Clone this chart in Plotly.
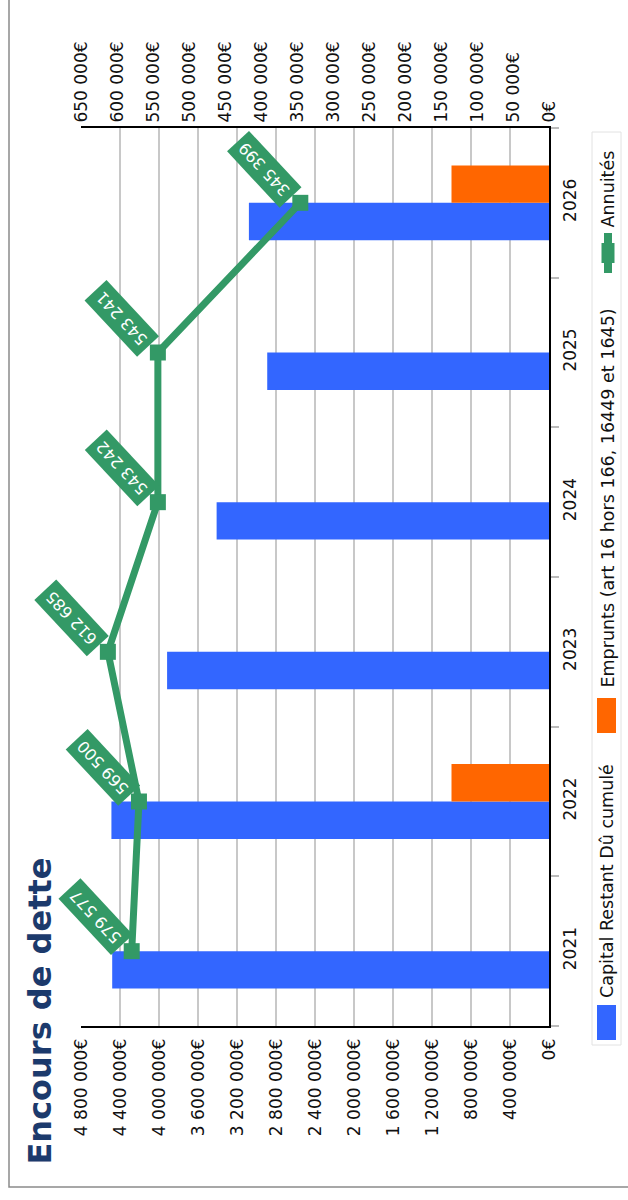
import plotly.graph_objects as go

# Chart data
years = ["2021", "2022", "2023", "2024", "2025", "2026"]
capital_restant = [4480000, 4488000, 3917000, 3409000, 2890000, 3078000]
emprunts = [0, 1000000, 0, 0, 0, 1000000]
annuites = [579577, 569500, 612685, 543242, 543241, 345399]

series_names = [
    "Capital Restant Dû cumulé",
    "Emprunts (art 16 hors 166, 16449 et 1645)",
    "Annuités",
]
title_text = "Encours de dette"

# Page geometry (pixels) and plot-area edges
W, H = 628, 1200
L, R, T, B = 81, 549, 128, 1026

BLUE = "#3366ff"
ORANGE = "#ff6600"
GREEN = "#339966"
NAVY = "#1c3a6c"
FONT = "DejaVu Sans"


def px(x):
    return (x - L) / (R - L)


def py(y):
    return (B - y) / (B - T)


def fmt(v):
    return f"{v:,}".replace(",", " ")


fig = go.Figure()
fig.add_trace(go.Bar(
    x=capital_restant, y=years, orientation="h", name=series_names[0],
    marker=dict(color=BLUE, line=dict(width=0)), xaxis="x", yaxis="y",
    showlegend=False,
))
fig.add_trace(go.Bar(
    x=emprunts, y=years, orientation="h", name=series_names[1],
    marker=dict(color=ORANGE, line=dict(width=0)), xaxis="x", yaxis="y",
    showlegend=False,
))
fig.add_trace(go.Scatter(
    x=annuites, y=years, name=series_names[2], mode="lines+markers",
    line=dict(color=GREEN, width=7),
    marker=dict(symbol="square", size=16, color=GREEN),
    xaxis="x2", yaxis="y", showlegend=False,
))

tick_font = dict(family=FONT, size=17, color="#111111")

annotations = []
# value labels on the Annuités line (category axis positions by index)
for i, v in enumerate(annuites):
    annotations.append(dict(
        x=v, y=i, xref="x2", yref="y", text=fmt(v), showarrow=False,
        textangle=-133, xshift=-36, yshift=34,
        bgcolor=GREEN, borderpad=5,
        font=dict(family=FONT, size=16, color="white"),
    ))

# title
annotations.append(dict(
    x=px(39), y=py(1167), xref="paper", yref="paper",
    text=f"<b>{title_text}</b>", showarrow=False, textangle=-90,
    xanchor="center", yanchor="bottom",
    font=dict(family=FONT, size=32, color=NAVY),
))

# legend texts
legend_starts = [1000, 690, 230]
for name, start in zip(series_names, legend_starts):
    annotations.append(dict(
        x=px(607), y=py(start), xref="paper", yref="paper",
        text=name, showarrow=False, textangle=-90,
        xanchor="center", yanchor="bottom",
        font=dict(family=FONT, size=17.5, color="#111111"),
    ))

shapes = [
    # outer frame
    dict(type="rect", xref="paper", yref="paper",
         x0=px(9), x1=px(680), y0=py(1187), y1=py(-40),
         line=dict(color="#8a8a8a", width=1.5), fillcolor="rgba(0,0,0,0)"),
    # legend box
    dict(type="rect", xref="paper", yref="paper",
         x0=px(592), x1=px(621), y0=py(1045), y1=py(132),
         line=dict(color="#e2e2e2", width=1), fillcolor="white"),
    # legend swatches
    dict(type="rect", xref="paper", yref="paper",
         x0=px(597), x1=px(616), y0=py(1040), y1=py(1005),
         line=dict(width=0), fillcolor=BLUE),
    dict(type="rect", xref="paper", yref="paper",
         x0=px(597), x1=px(616), y0=py(733), y1=py(698),
         line=dict(width=0), fillcolor=ORANGE),
    dict(type="line", xref="paper", yref="paper",
         x0=px(608), x1=px(608), y0=py(273), y1=py(233),
         line=dict(color=GREEN, width=8)),
    dict(type="rect", xref="paper", yref="paper",
         x0=px(601.5), x1=px(614.5), y0=py(263), y1=py(243),
         line=dict(width=0), fillcolor=GREEN),
]

fig.update_layout(
    width=W, height=H,
    margin=dict(l=L, r=W - R, t=T, b=H - B, pad=0),
    paper_bgcolor="white", plot_bgcolor="white",
    separators=", ",
    barmode="group", bargap=0.5, bargroupgap=0,
    font=dict(family=FONT),
    xaxis=dict(
        range=[4800000, 0], tick0=0, dtick=400000,
        tickformat=",d", ticksuffix="€", tickangle=-90, tickfont=tick_font,
        showgrid=True, gridcolor="#c8c8c8", gridwidth=1.5,
        showline=True, linecolor="black", linewidth=2,
        zeroline=False, ticks="", side="bottom", automargin=False,
        ticklabelstandoff=4,
    ),
    xaxis2=dict(
        range=[650000, 0], tick0=0, dtick=50000, overlaying="x",
        tickformat=",d", ticksuffix="€", tickangle=-90, tickfont=tick_font,
        showgrid=False, showline=True, linecolor="black", linewidth=2,
        zeroline=False, ticks="", side="top", automargin=False,
    ),
    yaxis=dict(
        type="category", categoryorder="array", categoryarray=years,
        range=[-0.5, 5.5], side="right", tickangle=-90,
        tickfont=dict(family=FONT, size=17, color="#111111"),
        showline=True, linecolor="black", linewidth=2,
        ticks="outside", tickson="boundaries", ticklen=8,
        tickcolor="#bbbbbb", tickwidth=1.5, ticklabelstandoff=5,
        showgrid=False, zeroline=False, automargin=False,
    ),
    annotations=annotations,
    shapes=shapes,
)

fig.write_html("out.html")
